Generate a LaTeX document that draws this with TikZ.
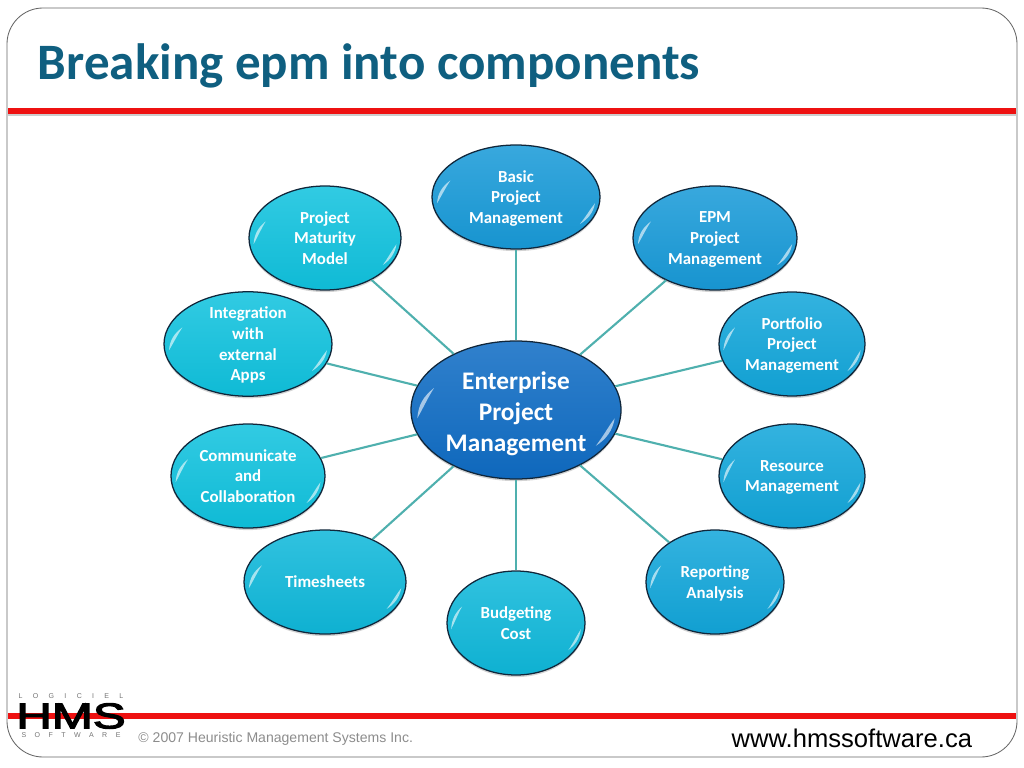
\documentclass[tikz,border=0pt]{standalone}
\usepackage{fontspec}
\setmainfont{Carlito}
\newfontfamily\arialfont{Liberation Sans}
\newfontfamily\logofont[FakeBold=3]{Liberation Sans}
\usetikzlibrary{shapes.geometric, shadows, calc}
\definecolor{titleblue}{HTML}{0F5F80}
\definecolor{spoketeal}{HTML}{4FB0AE}
\definecolor{slidered}{HTML}{EE1111}
\definecolor{edgenavy}{HTML}{10263A}
\definecolor{topblue}{HTML}{189AD8}
\definecolor{midblue}{HTML}{12A6DA}
\definecolor{sideblue}{HTML}{0FB8DA}
\definecolor{cyanblue}{HTML}{10C2DE}
\definecolor{hubblue}{HTML}{0F6CC4}
\tikzset{
    bubble/.style n args={3}{ellipse, draw=edgenavy, line width=0.9pt, inner sep=0pt, align=center,
        text=white, font=\bfseries\fontsize{12}{14.7}\selectfont, text depth=0pt,
        minimum width=#2*0.025cm, minimum height=#3*0.025cm,
        top color=#1!86!white, middle color=#1, bottom color=#1!96!black,
        drop shadow={shadow xshift=0pt, shadow yshift=-1.5pt, opacity=0.35}},
    spoke/.style={draw=spoketeal, line width=1.5pt},
    glint/.style={fill=white, opacity=0.6},
    redbar/.style={draw=slidered, line width=3.6pt},
}
\begin{document}
\begin{tikzpicture}[x=0.025cm, y=-0.025cm]
\useasboundingbox (0,0) rectangle (1024,768);
\draw[gray!80!black, line width=0.6pt, rounded corners=0.9cm] (7,8) rectangle (1017,757);

% title and bars
\node[text=titleblue, font=\bfseries\fontsize{36.3}{40}\selectfont, anchor=west] (title) at (33,66) {Breaking epm into components};
\coordinate (topbarl) at (8,111);
\coordinate (topbarr) at (1016,111);
\coordinate (botbarl) at (8,716);
\coordinate (botbarr) at (1016,716);
\draw[black!20, line width=2pt] ($(topbarl)+(0,3.5)$) -- ($(topbarr)+(0,3.5)$);
\draw[redbar] (topbarl) -- (topbarr);
\draw[redbar, line width=4.2pt] (botbarl) -- (botbarr);

% hub and bubbles
\node[bubble={hubblue}{210}{138}, font=\bfseries\fontsize{18}{22}\selectfont, text height=59.5pt] (epm) at (516,410) {Enterprise\\Project\\Management};
\node[bubble={topblue}{168}{104}] (basic) at (516,197) {Basic\\Project\\Management};
\node[bubble={topblue}{164}{104}] (epmproject) at (715,238) {EPM\\Project\\Management};
\node[bubble={midblue}{146}{104}] (portfolio) at (792,344) {Portfolio\\Project\\Management};
\node[bubble={midblue}{146}{104}] (resource) at (792,476) {Resource\\Management};
\node[bubble={midblue}{138}{104}] (reporting) at (715,582) {Reporting\\Analysis};
\node[bubble={sideblue}{138}{104}] (budgeting) at (516,623) {Budgeting\\Cost};
\node[bubble={sideblue}{162}{104}] (timesheets) at (325,582) {Timesheets};
\node[bubble={cyanblue}{154}{104}] (communicate) at (248,476) {Communicate\\and\\Collaboration};
\node[bubble={cyanblue}{168}{104}] (integration) at (248,344) {Integration\\with\\external\\Apps};
\node[bubble={cyanblue}{152}{104}] (maturity) at (325,238) {Project\\Maturity\\Model};

% glints on the rim of each bubble
\foreach \bub/\rx/\ry in {epm/105/69, basic/84/52, epmproject/82/52, portfolio/73/52, resource/73/52, reporting/69/52,
    budgeting/69/52, timesheets/81/52, communicate/77/52, integration/84/52, maturity/76/52} {
    \begin{scope}[shift={(\bub.center)}, x=\rx*0.025cm, y=\ry*0.025cm]
    \fill[glint] (-0.94,-0.12) .. controls (-0.93,0.08) and (-0.88,0.2) .. (-0.78,0.32)
        .. controls (-0.84,0.18) and (-0.88,0.04) .. cycle;
    \fill[glint] (0.94,-0.12) .. controls (0.92,-0.3) and (0.86,-0.42) .. (0.76,-0.52)
        .. controls (0.84,-0.36) and (0.88,-0.24) .. cycle;
    \end{scope}
}

\foreach \outer in {basic, epmproject, portfolio, resource, reporting, budgeting, timesheets, communicate, integration, maturity}
    \draw[spoke] (epm) -- (\outer);

% footer
\node[text=black!45, font=\arialfont\fontsize{10}{12}\selectfont, anchor=west] (copyright) at (133.5,739) {© 2007 Heuristic Management Systems Inc.};
\node[font=\arialfont\fontsize{18.2}{20}\selectfont, anchor=east] (website) at (977,738) {www.hmssoftware.ca};
\node[text=black!55, font=\arialfont\fontsize{5}{6}\selectfont, inner sep=0pt] (logotop) at (71,696.5) {L\hspace{1.47em}O\hspace{1.47em}G\hspace{1.47em}I\hspace{1.47em}C\hspace{1.47em}I\hspace{1.47em}E\hspace{1.47em}L};
\node[font=\logofont\fontsize{25}{25}\selectfont, inner sep=0pt] (logomain) at (71,716) {\scalebox{1.4}[1.02]{HMS}};
\node[text=black!55, font=\arialfont\fontsize{5}{6}\selectfont, inner sep=0pt] (logobot) at (71,735) {S\hspace{1.2em}O\hspace{1.2em}F\hspace{1.2em}T\hspace{1.2em}W\hspace{1.2em}A\hspace{1.2em}R\hspace{1.2em}E};
\end{tikzpicture}
\end{document}
